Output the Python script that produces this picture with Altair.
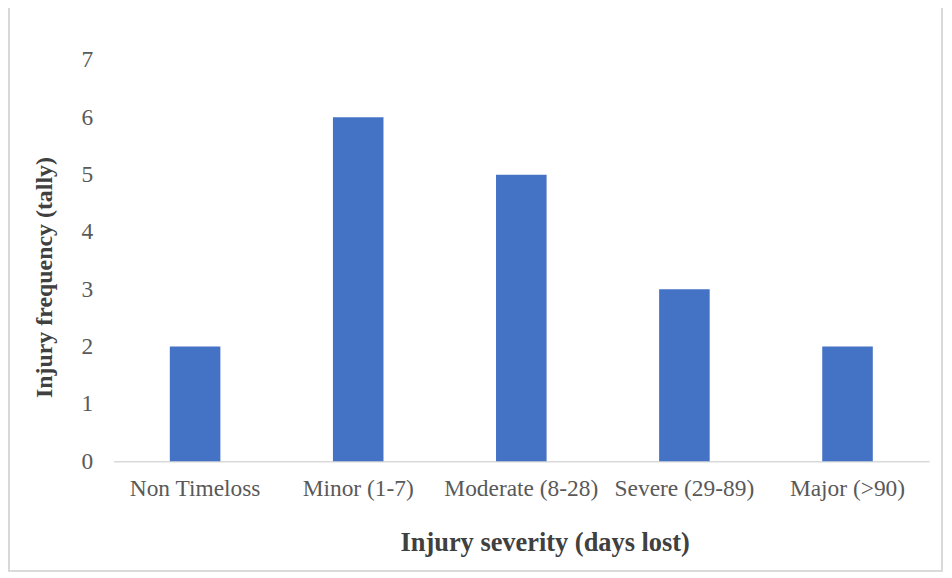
import altair as alt
import pandas as pd

categories = ["Non Timeloss", "Minor (1-7)", "Moderate (8-28)", "Severe (29-89)", "Major (>90)"]
values = [2, 6, 5, 3, 2]

df = pd.DataFrame({"cat": categories, "val": values})

FONT = "Liberation Serif"

bars = alt.Chart(df).mark_bar(color="#4472C4").encode(
    x=alt.X("cat:N", sort=categories,
            scale=alt.Scale(paddingInner=0.69, paddingOuter=0.345),
            axis=alt.Axis(title="Injury severity (days lost)", labelAngle=0,
                          labelFont=FONT, labelFontSize=23.5, labelColor="#595959",
                          labelPadding=15, ticks=False, domainColor="#d9d9d9",
                          domainWidth=1.5,
                          titleFont=FONT, titleFontSize=26.5, titleFontWeight="bold",
                          titleColor="#404040", titleX=433, titleY=90,
                          titleBaseline="alphabetic")),
    y=alt.Y("val:Q", scale=alt.Scale(domain=[0, 7]),
            axis=alt.Axis(title="Injury frequency (tally)", values=list(range(8)),
                          labelFont=FONT, labelFontSize=23.5, labelColor="#595959",
                          labelPadding=21, ticks=False, domain=False, grid=False,
                          titleFont=FONT, titleFontSize=24, titleFontWeight="bold",
                          titleColor="#404040", titleAngle=-90, titleX=-69, titleY=218,
                          titleBaseline="middle", titleAlign="center")),
)

border = alt.Chart(df).mark_rect(fill=None, stroke="#d9d9d9", strokeWidth=1.5).encode(
    x=alt.value(-105), x2=alt.value(832), y=alt.value(-53), y2=alt.value(513)
)

chart = alt.layer(border, bars).properties(
    width=819, height=403,
    autosize=alt.AutoSizeParams(type="none"),
    padding={"left": 106, "top": 51, "right": 15, "bottom": 110},
).configure_view(stroke=None)

chart.save("out.html", embed_options={"renderer": "svg", "actions": False})
